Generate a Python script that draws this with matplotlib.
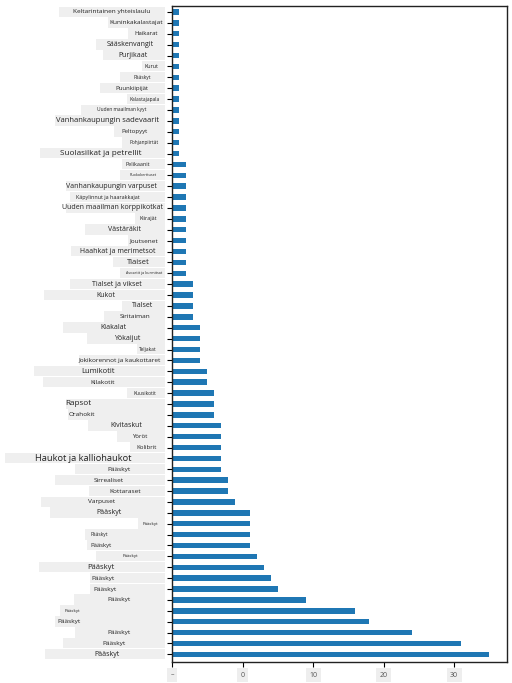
import matplotlib.pyplot as plt
from matplotlib.patches import Rectangle
from matplotlib.transforms import blended_transform_factory

# bird families, listed top to bottom as in the chart
families = [
    'Keltarintainen yhteislaulu', 'Kuninkakalastajat', 'Haikarat', 'Sääskenvangit',
    'Purjikaat', 'Kurut', 'Pääskyt', 'Puunkiipijät', 'Kalastajapala',
    'Uuden maailman kyyt', 'Vanhankaupungin sadevaarit', 'Peltopyyt', 'Pohjanpiirtät',
    'Suolasilkat ja petrellit', 'Pelikaanit', 'Ruokokerttuset',
    'Vanhankaupungin varpuset', 'Käpylinnut ja haarakkajat', 'Uuden maailman korppikotkat',
    'Kiirajät', 'Västäräkit', 'Joutsenet', 'Haahkat ja merimetsot', 'Tiaiset',
    'Avosetit ja kurmitsat', 'Tialset ja vikset', 'Kukot', 'Tialset', 'Siritaiman',
    'Kiakalat', 'Yökaijut', 'Teljakat', 'Jokikorennot ja kaukottaret', 'Lumikotit',
    'Kilakotit', 'Kuusikotit', 'Rapsot', 'Orahokit', 'Kivitaskut', 'Yöröt', 'Kolibrit',
    'Haukot ja kalliohaukot', 'Pääskyt', 'Sirrealiset', 'Kottaraset', 'Varpuset',
    'Pääskyt', 'Pääskyt', 'Pääskyt', 'Pääskyt', 'Pääskyt', 'Pääskyt', 'Pääskyt',
    'Pääskyt', 'Pääskyt', 'Pääskyt', 'Pääskyt', 'Pääskyt', 'Pääskyt', 'Pääskyt',
]
counts = [
    1, 1, 1, 1, 1, 1, 1, 1, 1, 1, 1, 1, 1, 1,
    2, 2, 2, 2, 2, 2, 2, 2, 2, 2, 2,
    3, 3, 3, 3,
    4, 4, 4, 4,
    5, 5,
    6, 6, 6,
    7, 7, 7, 7, 7,
    8, 8,
    9,
    11, 11, 11, 11,
    12, 13, 14, 15, 19, 26, 28, 34, 41, 45,
]

xtick_values = [0, 10, 20, 30, 40]
xtick_labels = ['–', '0', '10', '20', '30']

# label look: font size, text centre and grey box left edge (pixels of a 512 px wide figure)
label_sizes = [
    6, 6, 5.5, 6.5, 6.5, 5, 4.5, 5.5, 4.5, 4.5, 7, 5.5, 4.5, 7.5, 5,
    3.5, 6.5, 5, 6.5, 5, 6.5, 6, 6.5, 7, 3.5, 6.5, 6.5, 6.5, 6, 6.5,
    6.5, 4.5, 6, 7, 6, 4.5, 7.5, 6, 6.5, 5.5, 5.5, 8.5, 6, 6, 6, 6,
    6.5, 4, 4.5, 5.5, 4, 7, 6, 6, 6, 4, 6, 6, 6, 6.5,
]
label_centers = [
    112, 136, 146, 130, 133, 151, 142, 132, 145, 122, 108, 135, 144, 101, 138,
    143, 111, 108, 113, 148, 124, 144, 118, 138, 144, 117, 106, 143, 135, 113,
    127, 148, 120, 98, 103, 145, 78, 82, 126, 140, 147, 83, 119, 109, 125, 102,
    109, 150, 99, 101, 130, 101, 103, 105, 119, 72, 69, 119, 114, 107,
]
box_lefts = [
    59, 108, 128, 96, 103, 142, 120, 100, 127, 81, 55, 114, 122, 40, 122,
    120, 66, 70, 66, 135, 85, 128, 71, 113, 120, 70, 44, 122, 104, 63,
    87, 137, 79, 34, 43, 127, 66, 68, 88, 117, 130, 5, 75, 55, 89, 41,
    50, 138, 85, 87, 96, 39, 90, 90, 74, 60, 55, 75, 63, 45,
]
size_scale = 0.78

W, H = 512, 683
fig = plt.figure(figsize=(W / 100, H / 100), dpi=100)
ax = fig.add_axes([172 / W, 21 / H, 335 / W, 656 / H])

rows = list(range(len(families)))
ax.barh(rows, counts, height=0.5, color='#1f77b4', zorder=2)
ax.set_xlim(0, 47.5)
ax.set_ylim(len(families) - 0.3, -0.55)

ax.set_yticks(rows)
ax.set_yticklabels([])
ax.tick_params(axis='y', length=3.5, width=0.8)
ax.tick_params(axis='x', length=3.5, width=0.8)

ax.set_xticks(xtick_values)
ax.set_xticklabels(xtick_labels, fontsize=5, color='#555555', family='Open Sans')
for t in ax.get_xticklabels():
    t.set_bbox(dict(facecolor='#eeeeee', edgecolor='none', pad=2.5))

for s in ax.spines.values():
    s.set_linewidth(1.0)
    s.set_color('#222222')

tr = blended_transform_factory(fig.transFigure, ax.transData)
for i, name in enumerate(families):
    left = box_lefts[i] / W
    ax.add_patch(Rectangle((left, i - 0.5), 165 / W - left, 0.95, transform=tr,
                           facecolor='#efefef', edgecolor='none', clip_on=False, zorder=1))
for i, name in enumerate(families):
    ax.text(label_centers[i] / W, i, name, transform=tr, ha='center', va='center',
            fontsize=label_sizes[i] * size_scale, family='Open Sans', color='#222222',
            clip_on=False, zorder=3)

fig.savefig('out.png', dpi=100)
